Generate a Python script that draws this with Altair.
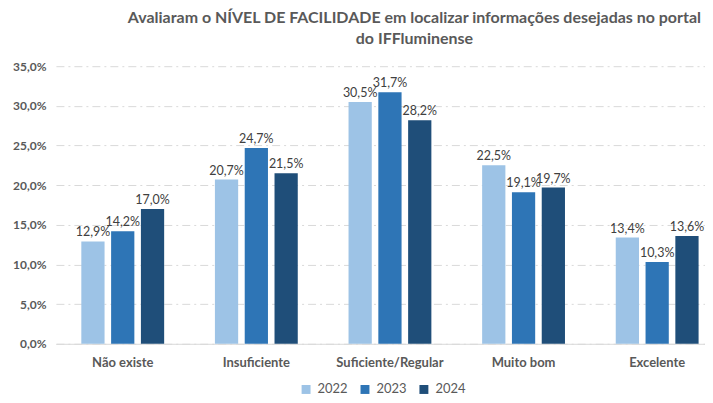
import altair as alt
import pandas as pd

categories = ["Não existe", "Insuficiente", "Suficiente/Regular", "Muito bom", "Excelente"]
years = ["2022", "2023", "2024"]
v2022 = [12.9, 20.7, 30.5, 22.5, 13.4]
v2023 = [14.2, 24.7, 31.7, 19.1, 10.3]
v2024 = [17.0, 21.5, 28.2, 19.7, 13.6]
y_ticks = [0, 0.05, 0.10, 0.15, 0.20, 0.25, 0.30, 0.35]
colors = ["#9DC3E6", "#2E75B6", "#1F4E79"]

rows = []
for yr, vals in zip(years, [v2022, v2023, v2024]):
    for c, v in zip(categories, vals):
        rows.append({"cat": c, "year": yr, "value": v / 100.0,
                     "label": f"{v:.1f}%".replace(".", ",")})
df = pd.DataFrame(rows)

FONT = "Lato"
GRAY = "#595959"

x = alt.X("cat:N", sort=categories, title=None,
          scale=alt.Scale(range=[0, 669], paddingInner=0.38, paddingOuter=0.19),
          axis=alt.Axis(labelAngle=0, labelFont=FONT, labelFontSize=13, labelFontWeight="bold",
                        labelColor=GRAY, ticks=False, domainColor="#D9D9D9", labelPadding=13))
xo = alt.XOffset("year:N", scale=alt.Scale(paddingInner=0.22))
y = alt.Y("value:Q", title=None, scale=alt.Scale(domain=[0, 0.35], nice=False),
          axis=alt.Axis(values=y_ticks, labelExpr="replace(format(datum.value, '.1%'), '.', ',')",
                        labelFont=FONT, labelFontSize=12, labelFontWeight="bold", labelColor=GRAY,
                        domain=False, ticks=False, labelPadding=10,
                        gridColor="#D9D9D9", gridDash=[8, 4, 2, 4]))

bars = alt.Chart(df).mark_bar().encode(
    x=x, xOffset=xo, y=y,
    color=alt.Color("year:N", scale=alt.Scale(domain=years, range=colors),
                    legend=alt.Legend(title=None, orient="none", direction="horizontal",
                                      legendX=244, legendY=317, symbolType="square", symbolSize=80,
                                      symbolStrokeWidth=0, labelFont=FONT, labelFontSize=13,
                                      labelColor=GRAY, columnPadding=10, labelOffset=5)),
)

texts = alt.Chart(df).mark_text(dy=-9, font=FONT, fontSize=12.5, color="#404040").encode(
    x=x, xOffset=xo, y=y, text="label:N"
)

chart = alt.layer(bars, texts).properties(
    width=650, height=278,
    autosize=alt.AutoSizeParams(type="none"),
    padding={"left": 48, "top": 58, "right": 0, "bottom": 53},
    title=alt.TitleParams(
        text=["Avaliaram o NÍVEL DE FACILIDADE em localizar informações desejadas no portal",
              "do IFFluminense"],
        font=FONT, fontSize=16, fontWeight="bold", color=GRAY, anchor="middle", dx=34,
        offset=13, lineHeight=21),
).configure_view(stroke=None)

chart.save("out.html", embed_options={"renderer": "svg", "actions": False})
